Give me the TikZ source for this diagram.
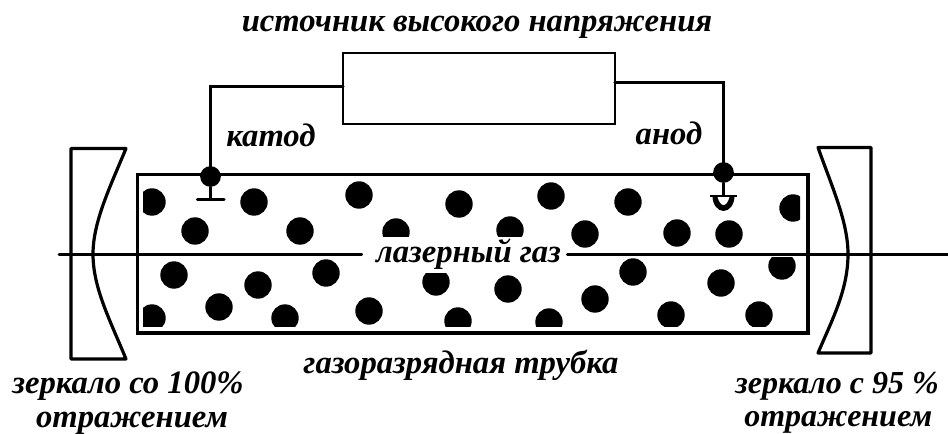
\documentclass[tikz,border=0pt]{standalone}
\usepackage{fontspec}
\setmainfont{Liberation Serif}
\begin{document}
\begin{tikzpicture}[x=0.75pt,y=-0.75pt,
  wire/.style={line width=2.4pt,line cap=round,line join=miter},
  axis wire/.style={line width=2.2pt,line cap=round},
  label/.style={font=\bfseries\itshape\fontsize{24.5pt}{25pt}\selectfont,inner sep=0pt,align=center},
  junction/.style={circle,fill=black,inner sep=0pt,minimum size=15.5pt}]
\useasboundingbox (0,0) rectangle (948,434);

% gas particles, cut off near the tube walls
\begin{scope}
  \clip (143,182) rectangle (800,326);
  \foreach \px/\py in {152/202,254/202,195/231,300/231,174/275,258/285,219/307,285/318,152/318,326/273,
    359/195,459/204,551/196,628/202,585/234,508/289,369/311,458/321,549/322,595/299,633/272,
    677/233,729/234,793/208,721/283,671/315,759/315}
    \fill (\px,\py) circle (13.7);
\end{scope}
% particles cut off along the axis: x / y / top of window / bottom of window
\foreach \px/\py/\ct/\cb in {396/232/210/237,510/230/210/237,782/266/258/290,436/282/274/310}{
  \begin{scope}
    \clip (\px-20,\ct) rectangle (\px+20,\cb);
    \fill (\px,\py) circle (13.7);
  \end{scope}
}

% discharge tube
\coordinate (tubeNW) at (137.5,174.5);
\coordinate (tubeSE) at (808,333);
\draw[wire] (tubeNW) rectangle (tubeSE);

% optical axis, interrupted by its label
\node[label] (gas) at (468.5,254) {лазерный газ};
\coordinate (axisL) at (59,254.3);
\coordinate (axisR) at (948,254.3);
\draw[axis wire] (axisL) -- ([xshift=-10.5pt]gas.west |- axisL);
\draw[axis wire] ([xshift=4.5pt]gas.east |- axisR) -- (axisR);

% mirrors
\draw[wire,line join=round] (71,359) -- (71,148.5) -- (126,148.5)
  .. controls (110,187) and (93,222) .. (93,254)
  .. controls (93,288) and (110,320) .. (126,359) -- cycle;
\draw[wire,line join=round] (871,353) -- (871,147.5) -- (818,147.5)
  .. controls (832,187) and (848,222) .. (848,254)
  .. controls (848,290) and (832,320) .. (818,353) -- cycle;

% power supply and leads
\node[draw,line width=2pt,minimum width=204pt,minimum height=53.25pt,inner sep=0pt] (hv) at (479,88.5) {};
\node[junction] (cathode) at (210.5,176.5) {};
\node[junction] (anode) at (723.5,172.5) {};
\coordinate (hvL) at (343,86.7);
\coordinate (hvR) at (615,82.7);
\draw[wire] (hvL) -| (cathode.center);
\draw[wire] (hvR) -| (anode.center);

% electrodes
\coordinate (cbar) at (210.5,199.5);
\coordinate (abar) at (723.5,196);
\draw[wire] (cathode) -- (cbar);
\draw[wire] (197.5,199.5) -- (224,199.5);
\draw[wire] (anode) -- (abar);
\fill (712.5,196) arc[start angle=180,end angle=0,x radius=11,y radius=15] -- cycle;
\fill[white] (717.5,197) .. controls (719,202) and (721,205) .. (723.5,205)
  .. controls (726,205) and (728,202) .. (729.5,197) -- cycle;
\draw[line width=1pt] (710,196) -- (737,196);

% captions
\node[label] (title) at (477,27) {источник высокого напряжения};
\node[label] (cat) at (271,135.5) {катод};
\node[label] (an) at (669,133) {анод};
\node[label] (tube) at (461,365) {газоразрядная трубка};
\node[label] (m1) at (128,403) {зеркало со 100\%\\\hspace{6pt}отражением};
\node[label,font=\bfseries\itshape\fontsize{24pt}{25pt}\selectfont] (m2) at (837,403) {зеркало с 95 \%\\\hspace{2pt}отражением};
\end{tikzpicture}
\end{document}
